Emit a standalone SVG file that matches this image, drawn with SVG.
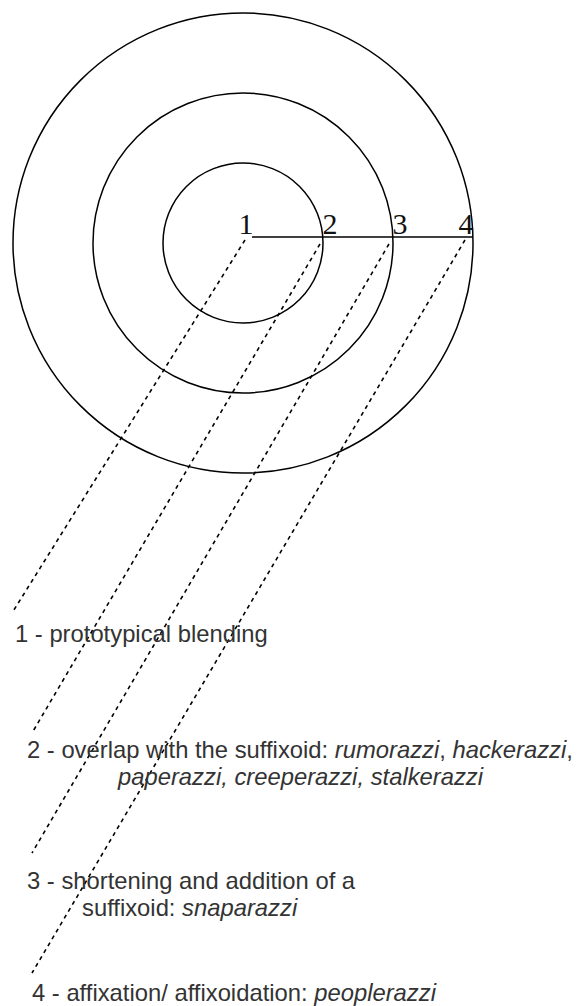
<svg xmlns="http://www.w3.org/2000/svg" width="577" height="1006" viewBox="0 0 577 1006">
<style>
.ring{fill:none;stroke:#000;stroke-width:1.5}
.num{font-family:"Liberation Serif","Times New Roman",serif;font-size:30px;fill:#111}
.txt{font-family:"Liberation Sans",Arial,sans-serif;font-size:23.8px;fill:#333}
.it{font-style:italic}
.dash{fill:none;stroke:#000;stroke-width:1.6;stroke-dasharray:4 4}
.solid{fill:none;stroke:#000;stroke-width:1.5}
</style>
<rect width="577" height="1006" fill="#fff"/>
<g id="rings">
<circle class="ring" cx="243" cy="243" r="230"/>
<circle class="ring" cx="243" cy="243" r="150"/>
<circle class="ring" cx="243" cy="243" r="80"/>
</g>
<g id="connectors">
<line class="solid" x1="252" y1="237" x2="473" y2="237"/>
<line class="dash" x1="245" y1="240" x2="12" y2="613"/>
<line class="dash" x1="320" y1="244" x2="32" y2="733"/>
<line class="dash" x1="389" y1="244" x2="32" y2="853"/>
<line class="dash" x1="465" y1="240" x2="32" y2="973"/>
</g>
<g id="point-labels">
<text class="num" x="246" y="234" text-anchor="middle">1</text>
<text class="num" x="330" y="234" text-anchor="middle">2</text>
<text class="num" x="400" y="234" text-anchor="middle">3</text>
<text class="num" x="466" y="234" text-anchor="middle">4</text>
</g>
<g id="legend-1"><text class="txt" x="15" y="641.5">1 - prototypical blending</text></g>
<g id="legend-2">
<text class="txt" x="27" y="758">2 - overlap with the suffixoid: <tspan class="it">rumorazzi</tspan>, <tspan class="it">hackerazzi</tspan>,</text>
<text class="txt it" x="118" y="785">paperazzi, creeperazzi, stalkerazzi</text>
</g>
<g id="legend-3">
<text class="txt" x="27" y="889">3 - shortening and addition of a</text>
<text class="txt" x="82" y="916">suffixoid: <tspan class="it">snaparazzi</tspan></text>
</g>
<g id="legend-4"><text class="txt" x="32" y="1001">4 - affixation/ affixoidation: <tspan class="it">peoplerazzi</tspan></text></g>
</svg>
